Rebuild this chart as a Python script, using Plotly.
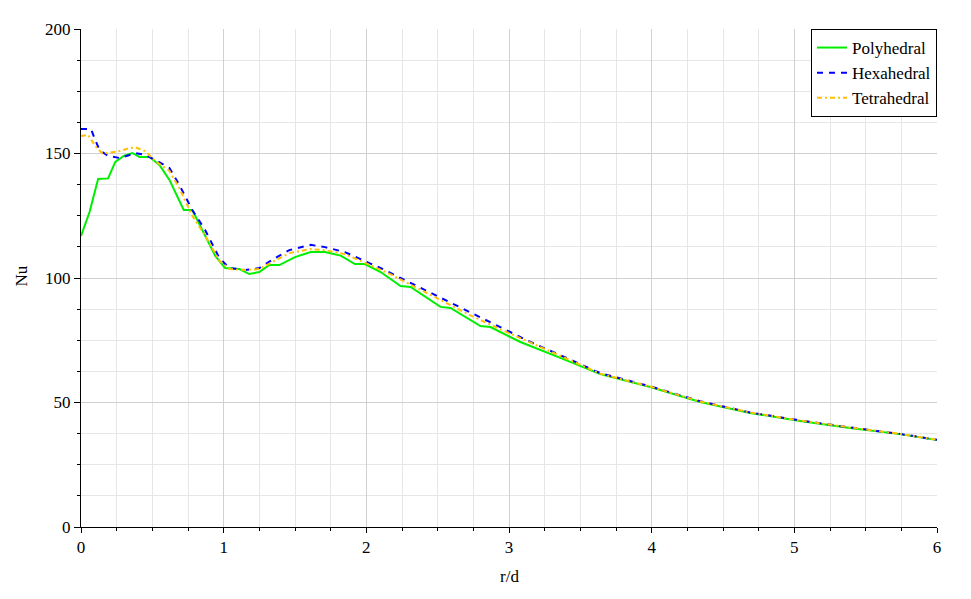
import plotly.graph_objects as go

x_poly = [0, 0.06, 0.12, 0.19, 0.24, 0.30, 0.36, 0.41, 0.48, 0.55, 0.62, 0.72, 0.78, 0.87, 0.94, 1.01, 1.11, 1.18, 1.25, 1.32, 1.39, 1.50, 1.61, 1.71, 1.82, 1.92, 1.99, 2.10, 2.24, 2.31, 2.52, 2.59, 2.80, 2.87, 3.08, 3.36, 3.64, 3.99, 4.34, 4.69, 5.04, 5.39, 5.74, 6.0]
y_poly = [116.9, 126.5, 139.8, 140, 146.6, 149, 150.2, 148.6, 148.6, 145.4, 139.4, 127.3, 127.3, 117.3, 109, 104, 103.6, 101.6, 102.4, 105.2, 105.2, 108.4, 110.4, 110.4, 109, 105.6, 105.6, 102.4, 96.8, 96.4, 88.4, 88, 80.7, 80.3, 74.3, 67.9, 61.4, 56.2, 50.2, 45.8, 42.6, 39.8, 37.3, 34.9]

x_hex = [0, 0.07, 0.10, 0.13, 0.19, 0.27, 0.34, 0.38, 0.45, 0.52, 0.62, 0.69, 0.78, 0.87, 0.97, 1.04, 1.15, 1.25, 1.36, 1.46, 1.61, 1.71, 1.85, 1.96, 2.13, 2.24, 2.38, 2.52, 2.73, 2.94, 3.15, 3.36, 3.64, 3.99, 4.34, 4.69, 5.04, 5.39, 5.74, 6.0]
y_hex = [159.8, 159.8, 155.4, 151.4, 149, 148.2, 149.4, 150.2, 149.4, 147.4, 144.2, 137.3, 127.3, 119.3, 108, 104, 103.2, 104, 108, 111.2, 113.3, 112.4, 110.4, 107.6, 103.2, 100, 96, 92, 86, 80, 74.3, 69, 61.8, 56.5, 50.5, 46, 42.8, 40, 37.4, 35]

x_tet = [0, 0.05, 0.10, 0.15, 0.21, 0.27, 0.33, 0.38, 0.45, 0.52, 0.62, 0.69, 0.78, 0.87, 0.97, 1.04, 1.15, 1.25, 1.36, 1.46, 1.61, 1.71, 1.85, 1.96, 2.13, 2.24, 2.38, 2.52, 2.73, 2.94, 3.15, 3.36, 3.64, 3.99, 4.34, 4.69, 5.04, 5.39, 5.74, 6.0]
y_tet = [157, 157.5, 153, 150, 150.4, 151, 152, 152.5, 151, 147, 143, 136, 125, 117, 107, 103.6, 103.2, 103.6, 107, 110, 111.6, 111.2, 109.6, 106.8, 102.6, 99.4, 95.2, 91, 85, 79.4, 74, 68.5, 61.6, 56.4, 50.4, 46, 42.8, 40, 37.4, 35]

x_ticks = [0, 1, 2, 3, 4, 5, 6]
y_ticks = [0, 50, 100, 150, 200]

FONT = "Liberation Serif, Times New Roman, serif"

fig = go.Figure()
fig.add_trace(go.Scatter(x=x_poly, y=y_poly, mode="lines", name="Polyhedral",
                         line=dict(color="#00ee00", width=2)))
fig.add_trace(go.Scatter(x=x_hex, y=y_hex, mode="lines", name="Hexahedral",
                         line=dict(color="#0000ff", width=2, dash="6px,6px")))
fig.add_trace(go.Scatter(x=x_tet, y=y_tet, mode="lines", name="Tetrahedral",
                         line=dict(color="#ffc000", width=2, dash="5px,3px,2px,3px")))

fig.update_layout(
    width=963, height=591,
    margin=dict(l=73, r=34, t=21, b=72),
    paper_bgcolor="white", plot_bgcolor="white",
    font=dict(family=FONT, size=17, color="black"),
    showlegend=True,
    legend=dict(x=1, y=1, xanchor="right", yanchor="top",
                bordercolor="black", borderwidth=1, bgcolor="white",
                font=dict(family=FONT, size=17, color="black"),
                tracegroupgap=0, itemwidth=30),
    xaxis=dict(range=[0, 6], tickvals=x_ticks, ticktext=[str(v) for v in x_ticks],
               showline=True, linecolor="black", linewidth=1,
               ticks="outside", ticklen=5, tickcolor="black",
               showgrid=True, gridcolor="#d0d0d0", gridwidth=1, zeroline=False,
               minor=dict(dtick=0.25, showgrid=True, gridcolor="#e6e6e6",
                          ticks="outside", ticklen=3, tickcolor="black"),
               tickfont=dict(family=FONT, size=17)),
    yaxis=dict(range=[0, 200], tickvals=y_ticks, ticktext=[str(v) for v in y_ticks],
               showline=True, linecolor="black", linewidth=1,
               ticks="outside", ticklen=6, tickcolor="black",
               showgrid=True, gridcolor="#d0d0d0", gridwidth=1, zeroline=False,
               minor=dict(dtick=12.5, showgrid=True, gridcolor="#e6e6e6",
                          ticks="outside", ticklen=3, tickcolor="black"),
               tickfont=dict(family=FONT, size=17)),
    annotations=[
        dict(text="r/d", xref="paper", yref="paper", x=0.5, y=-0.1, yanchor="middle",
             showarrow=False, font=dict(family=FONT, size=17)),
        dict(text="Nu", xref="paper", yref="paper", x=-0.07, y=0.503, xanchor="center",
             yanchor="middle", textangle=-90,
             showarrow=False, font=dict(family=FONT, size=17)),
    ],
)

fig.write_html("out.html")
